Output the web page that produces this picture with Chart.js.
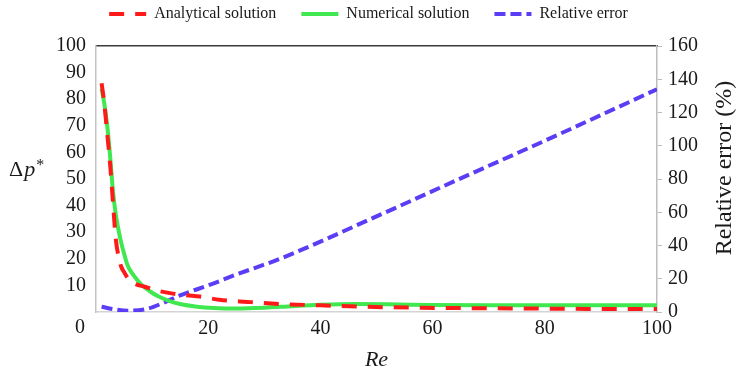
<!DOCTYPE html>
<html>
<head>
<meta charset="utf-8">
<script src="https://cdn.jsdelivr.net/npm/chart.js@4.4.1/dist/chart.umd.min.js"></script>
<style>
  html, body { margin: 0; padding: 0; background: #fff; }
  #wrap { width: 737px; height: 376px; position: relative; }
</style>
</head>
<body>
<div id="wrap"><canvas id="myChart"></canvas></div>
<script>
// Pressure drop vs Reynolds number
var reAnalytical = [1, 1.5, 2, 2.5, 3, 3.5, 4, 4.5, 5, 6, 7, 8.7, 11, 13.2, 16, 18.5, 22, 27, 33, 40, 47, 58, 70, 85, 100];
var dpAnalytical = [86, 78, 67, 56, 42, 28, 21, 17, 15, 11.8, 10.5, 9.5, 8.0, 7.1, 6.3, 5.8, 4.6, 3.8, 3.0, 2.5, 2.0, 1.6, 1.4, 1.2, 1.1];

var reNumerical = [1, 1.5, 2, 2.5, 3, 3.5, 4, 4.5, 5, 5.5, 6, 7, 8, 9.6, 11, 13, 15, 18, 21, 25, 30, 35, 40, 46, 52, 60, 70, 80, 100];
var dpNumerical = [84, 78, 70, 59, 46, 37, 31, 26, 22, 18.3, 16, 13, 10.5, 7.8, 6, 4.2, 3, 2, 1.5, 1.3, 1.6, 2.2, 2.7, 3.0, 2.9, 2.6, 2.5, 2.5, 2.5];

// relative error (%) on the right axis
var reError = [1, 3, 6, 9, 12, 15, 20, 25, 33, 50, 67, 80, 100];
var relError = [3.2, 1.8, 0.8, 1.8, 5.5, 10, 16, 22.5, 32.3, 57.5, 83.4, 103, 134];

var seriesNames = ['Analytical solution', 'Numerical solution', 'Relative error'];

var serif = "'Liberation Serif', 'DejaVu Serif', serif";
var ink = '#1a1a1a';

function toPoints(xs, ys) {
  var pts = [];
  for (var i = 0; i < xs.length; i++) {
    pts.push({ x: xs[i], y: ys[i] });
  }
  return pts;
}

Chart.defaults.font.family = serif;
Chart.defaults.color = ink;

// extra text: the offset "0" under the origin and the two side titles
var extraText = {
  id: 'extraText',
  afterDraw: function (chart) {
    var c = chart.ctx;
    var xs = chart.scales.x;
    c.save();
    c.fillStyle = ink;

    c.font = '20px ' + serif;
    c.textAlign = 'center';
    c.textBaseline = 'middle';
    c.fillText('0', xs.getPixelForValue(0) - 16, 328);

    // Δp*
    c.textAlign = 'left';
    c.textBaseline = 'alphabetic';
    c.font = '22px ' + serif;
    c.fillText('\u0394', 9, 176);
    var w = c.measureText('\u0394').width;
    c.font = 'italic 22px ' + serif;
    c.fillText('p', 9 + w + 1, 176);
    var wp = c.measureText('p').width;
    c.font = '16px ' + serif;
    c.fillText('*', 9 + w + wp + 2, 170);

    // right axis title, reading upward
    c.translate(725, 168);
    c.rotate(-Math.PI / 2);
    c.font = '24px ' + serif;
    c.textAlign = 'center';
    c.textBaseline = 'middle';
    c.fillText('Relative error (%)', 0, 0);
    c.restore();
  }
};

var ctx = document.getElementById('myChart').getContext('2d');

var chart = new Chart(ctx, {
  type: 'line',
  data: {
    datasets: [{
      label: seriesNames[0],
      data: toPoints(reAnalytical, dpAnalytical),
      borderColor: '#ff1a1a',
      backgroundColor: '#ff1a1a',
      borderWidth: 4,
      borderDash: [15, 11],
      pointRadius: 0,
      cubicInterpolationMode: 'monotone',
      yAxisID: 'y'
    }, {
      label: seriesNames[1],
      data: toPoints(reNumerical, dpNumerical),
      borderColor: '#40e850',
      backgroundColor: '#40e850',
      borderWidth: 4,
      pointRadius: 0,
      cubicInterpolationMode: 'monotone',
      yAxisID: 'y'
    }, {
      label: seriesNames[2],
      data: toPoints(reError, relError),
      borderColor: '#5b3df5',
      backgroundColor: '#5b3df5',
      borderWidth: 4,
      borderDash: [11, 5],
      pointRadius: 0,
      cubicInterpolationMode: 'monotone',
      yAxisID: 'y2'
    }]
  },
  options: {
    responsive: true,
    maintainAspectRatio: false,
    animation: false,
    layout: { padding: { top: -19, left: 0, right: 0, bottom: 0 } },
    scales: {
      x: {
        type: 'linear',
        position: 'bottom',
        min: 0,
        max: 100,
        ticks: {
          stepSize: 20,
          padding: 5,
          autoSkip: false,
          maxRotation: 0,
          font: { size: 20 },
          callback: function (v) { return v === 0 ? '' : v; }
        },
        grid: { display: false, drawTicks: false },
        border: { display: true, color: '#d4d4d4', width: 1.5 },
        title: {
          display: true,
          text: 'Re',
          font: { size: 22, style: 'italic' },
          padding: { top: 3, bottom: 3 }
        },
        afterFit: function (s) { s.height = 64; }
      },
      xTop: {
        type: 'linear',
        position: 'top',
        min: 0,
        max: 100,
        ticks: { display: false },
        grid: { display: false, drawTicks: false },
        border: { display: true, color: '#3a3a3a', width: 1.5 },
        afterFit: function (s) { s.height = 14; }
      },
      y: {
        type: 'linear',
        position: 'left',
        min: 0,
        max: 100,
        ticks: {
          stepSize: 10,
          padding: 10,
          autoSkip: false,
          font: { size: 20 },
          callback: function (v) { return v === 0 ? '' : v; }
        },
        grid: { display: false, drawTicks: false },
        border: { display: true, color: '#c4c4c4', width: 1.5 },
        afterFit: function (s) { s.width = 96; }
      },
      y2: {
        type: 'linear',
        position: 'right',
        min: 0,
        max: 160,
        ticks: {
          stepSize: 20,
          padding: 6,
          autoSkip: false,
          font: { size: 20 }
        },
        grid: {
          display: true,
          drawOnChartArea: false,
          drawTicks: true,
          tickLength: 5,
          color: '#bdbdbd'
        },
        border: { display: true, color: '#bdbdbd', width: 1.5 },
        afterFit: function (s) { s.width = 80; }
      }
    },
    plugins: {
      legend: {
        display: true,
        position: 'top',
        labels: {
          usePointStyle: true,
          pointStyle: 'line',
          pointStyleWidth: 37,
          padding: 25,
          color: ink,
          font: { size: 16 },
          // line samples take the dash and width of their dataset
          generateLabels: function (chart) {
            var items = Chart.defaults.plugins.legend.labels.generateLabels(chart);
            items.forEach(function (item) {
              var ds = chart.data.datasets[item.datasetIndex];
              item.lineDash = ds.borderDash || [];
              item.lineWidth = 4;
              item.strokeStyle = ds.borderColor;
            });
            return items;
          }
        }
      },
      tooltip: { enabled: false }
    }
  },
  plugins: [extraText]
});
</script>
</body>
</html>
